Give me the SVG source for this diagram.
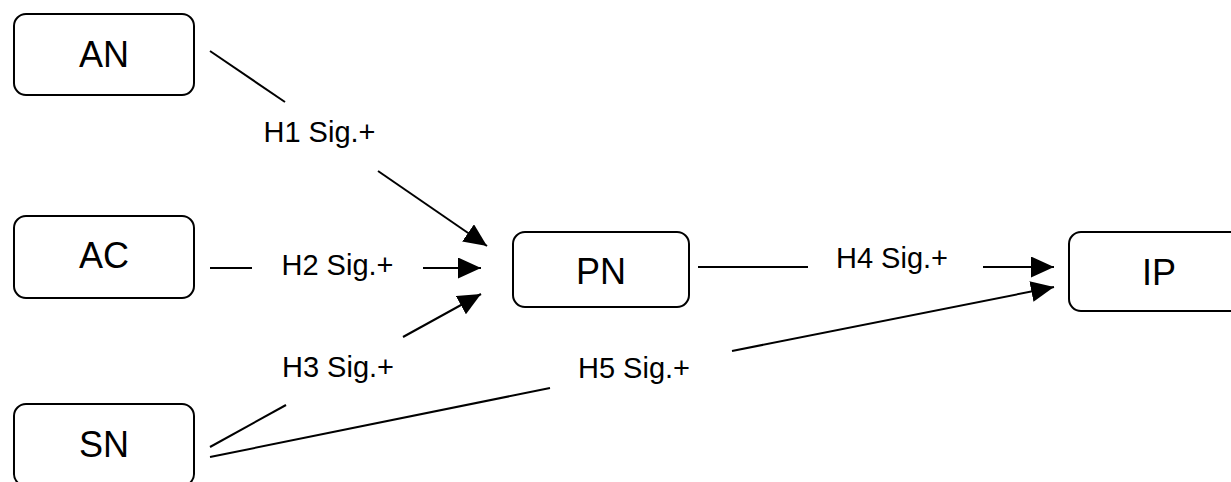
<svg xmlns="http://www.w3.org/2000/svg" width="1231" height="482" viewBox="0 0 1231 482">
  <style>
    .box { fill: #ffffff; stroke: #000000; stroke-width: 2; }
    .ntext { font-family: "Liberation Sans", Arial, sans-serif; font-size: 36px; fill: #000000; text-anchor: middle; }
    .ltext { font-family: "Liberation Sans", Arial, sans-serif; font-size: 29px; fill: #000000; text-anchor: middle; }
    .edge { fill: none; stroke: #000000; stroke-width: 2; }
  </style>
  <defs>
    <marker id="arrow" markerUnits="userSpaceOnUse" markerWidth="24" markerHeight="21" refX="23" refY="10.5" orient="auto" viewBox="0 0 24 21">
      <path d="M0,0 L23,10.5 L0,21 Z" fill="#000000"/>
    </marker>
  </defs>
  <rect width="1231" height="482" fill="#ffffff"/>
  <g id="connectors">
    <g id="e-AN-PN">
      <line class="edge" x1="210" y1="51" x2="285" y2="102"/>
      <line class="edge" x1="378" y1="171" x2="487" y2="246" marker-end="url(#arrow)"/>
      <text class="ltext" x="319.5" y="142">H1 Sig.+</text>
    </g>
    <g id="e-AC-PN">
      <line class="edge" x1="210" y1="268" x2="252" y2="268"/>
      <line class="edge" x1="423" y1="268" x2="481" y2="268" marker-end="url(#arrow)"/>
      <text class="ltext" x="337.5" y="275">H2 Sig.+</text>
    </g>
    <g id="e-SN-PN">
      <line class="edge" x1="210" y1="447" x2="286" y2="405"/>
      <line class="edge" x1="403" y1="337" x2="481" y2="294" marker-end="url(#arrow)"/>
      <text class="ltext" x="338" y="377">H3 Sig.+</text>
    </g>
    <g id="e-PN-IP">
      <line class="edge" x1="698" y1="267" x2="808" y2="267"/>
      <line class="edge" x1="983" y1="267" x2="1054" y2="267" marker-end="url(#arrow)"/>
      <text class="ltext" x="892" y="268">H4 Sig.+</text>
    </g>
    <g id="e-SN-IP">
      <line class="edge" x1="210" y1="457" x2="550" y2="388"/>
      <line class="edge" x1="732" y1="351" x2="1054" y2="287" marker-end="url(#arrow)"/>
      <text class="ltext" x="634" y="378">H5 Sig.+</text>
    </g>
  </g>
  <g id="AN">
    <rect class="box" x="14" y="14" width="180" height="81" rx="12" ry="12"/>
    <text class="ntext" x="104" y="67">AN</text>
  </g>
  <g id="AC">
    <rect class="box" x="14" y="216" width="180" height="82" rx="12" ry="12"/>
    <text class="ntext" x="104" y="268">AC</text>
  </g>
  <g id="SN">
    <rect class="box" x="14" y="404" width="180" height="82" rx="12" ry="12"/>
    <text class="ntext" x="104" y="457">SN</text>
  </g>
  <g id="PN">
    <rect class="box" x="513" y="232" width="176" height="75" rx="12" ry="12"/>
    <text class="ntext" x="601" y="284">PN</text>
  </g>
  <g id="IP">
    <rect class="box" x="1069" y="232" width="180" height="79" rx="12" ry="12"/>
    <text class="ntext" x="1159" y="285">IP</text>
  </g>
</svg>
